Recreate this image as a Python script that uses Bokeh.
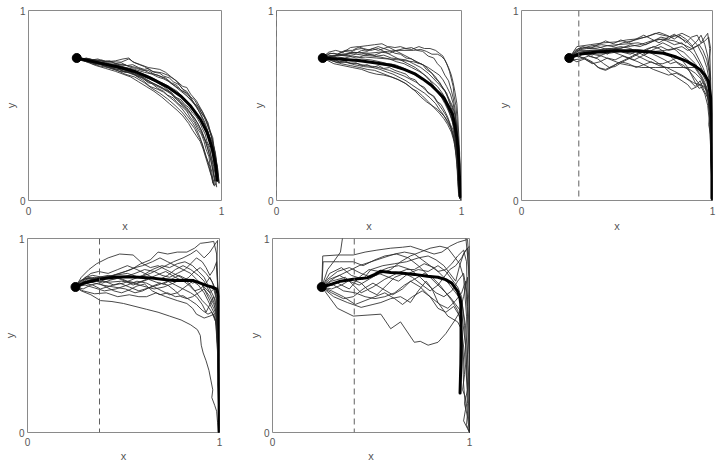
from bokeh.plotting import figure
from bokeh.layouts import column, row
from bokeh.models import Range1d, FixedTicker, Span
from bokeh.embed import file_html
from bokeh.resources import INLINE

# ---------------- data ----------------
START = (0.25, 0.75)
TICKS = [0, 1]
TICK_LABELS = {0: "0", 1: "1"}

# thresholds (dashed vertical lines); None = no line
THRESHOLDS = [None, 0.0, 0.30, 0.375, 0.415]

P1_MEAN = [(0.25,0.75),(0.37,0.723),(0.46,0.704),(0.55,0.679),(0.63,0.645),(0.72,0.598),(0.79,0.549),(0.84,0.497),(0.89,0.428),(0.925,0.359),(0.952,0.272),(0.97,0.185),(0.978,0.107)]
P1_PATHS = [
 [(0.25,0.75),(0.30,0.745),(0.35,0.74),(0.40,0.735),(0.44,0.73),(0.48,0.728),(0.52,0.745),(0.55,0.725),(0.60,0.705),(0.64,0.68),(0.69,0.672),(0.72,0.66),(0.76,0.635),(0.80,0.60),(0.82,0.595),(0.84,0.56),(0.87,0.525),(0.90,0.47),(0.92,0.43),(0.94,0.37),(0.955,0.31),(0.97,0.23),(0.98,0.16),(0.985,0.12)],
 [(0.25,0.75),(0.31,0.735),(0.36,0.71),(0.41,0.70),(0.46,0.685),(0.50,0.665),(0.55,0.65),(0.60,0.62),(0.64,0.59),(0.68,0.565),(0.72,0.535),(0.76,0.50),(0.80,0.46),(0.83,0.42),(0.86,0.38),(0.88,0.34),(0.90,0.30),(0.915,0.25),(0.93,0.20),(0.945,0.14),(0.96,0.10),(0.965,0.075)],
 [(0.25,0.75),(0.32,0.735),(0.38,0.725),(0.43,0.715),(0.47,0.71),(0.52,0.695),(0.57,0.675),(0.61,0.66),(0.66,0.635),(0.70,0.61),(0.74,0.585),(0.78,0.56),(0.81,0.53),(0.84,0.50),(0.87,0.46),(0.89,0.43),(0.91,0.39),(0.93,0.34),(0.945,0.29),(0.955,0.23),(0.965,0.17),(0.975,0.11)],
 [(0.25,0.75),(0.30,0.73),(0.36,0.72),(0.42,0.70),(0.48,0.685),(0.53,0.67),(0.58,0.65),(0.62,0.625),(0.66,0.605),(0.70,0.585),(0.74,0.56),(0.77,0.53),(0.80,0.505),(0.83,0.47),(0.86,0.435),(0.88,0.40),(0.90,0.36),(0.915,0.32),(0.93,0.27),(0.945,0.21),(0.955,0.16),(0.965,0.10)],
 [(0.25,0.75),(0.33,0.74),(0.40,0.73),(0.45,0.735),(0.49,0.745),(0.52,0.75),(0.54,0.73),(0.58,0.715),(0.62,0.70),(0.65,0.695),(0.68,0.69),(0.71,0.675),(0.74,0.65),(0.77,0.625),(0.80,0.585),(0.83,0.555),(0.86,0.51),(0.88,0.485),(0.91,0.44),(0.93,0.39),(0.95,0.33),(0.96,0.27),(0.975,0.20),(0.98,0.14),(0.985,0.09)],
 [(0.25,0.75),(0.31,0.73),(0.37,0.715),(0.43,0.695),(0.47,0.68),(0.51,0.675),(0.55,0.66),(0.59,0.635),(0.63,0.60),(0.67,0.585),(0.70,0.57),(0.73,0.545),(0.76,0.52),(0.79,0.49),(0.82,0.45),(0.85,0.41),(0.87,0.375),(0.89,0.33),(0.905,0.28),(0.92,0.23),(0.94,0.18),(0.95,0.12),(0.955,0.09)],
 [(0.25,0.75),(0.29,0.74),(0.34,0.735),(0.39,0.725),(0.44,0.71),(0.50,0.70),(0.55,0.69),(0.60,0.675),(0.64,0.665),(0.67,0.65),(0.70,0.64),(0.73,0.625),(0.76,0.60),(0.79,0.575),(0.82,0.55),(0.85,0.52),(0.87,0.49),(0.89,0.46),(0.91,0.42),(0.925,0.38),(0.94,0.33),(0.955,0.28),(0.965,0.22),(0.975,0.16),(0.98,0.10)],
 [(0.25,0.75),(0.32,0.74),(0.38,0.72),(0.42,0.705),(0.46,0.70),(0.50,0.69),(0.54,0.675),(0.57,0.66),(0.60,0.645),(0.64,0.62),(0.68,0.60),(0.72,0.58),(0.75,0.55),(0.78,0.52),(0.81,0.485),(0.84,0.455),(0.86,0.42),(0.88,0.385),(0.90,0.35),(0.92,0.30),(0.935,0.25),(0.95,0.19),(0.96,0.13),(0.97,0.08)],
 [(0.25,0.75),(0.30,0.74),(0.35,0.725),(0.40,0.72),(0.45,0.70),(0.50,0.685),(0.55,0.67),(0.60,0.65),(0.65,0.63),(0.69,0.62),(0.73,0.60),(0.77,0.575),(0.80,0.545),(0.83,0.515),(0.855,0.48),(0.88,0.44),(0.90,0.41),(0.92,0.37),(0.94,0.32),(0.955,0.26),(0.965,0.20),(0.97,0.15),(0.975,0.10)],
 [(0.25,0.75),(0.31,0.745),(0.37,0.73),(0.42,0.72),(0.46,0.715),(0.51,0.71),(0.56,0.70),(0.60,0.685),(0.63,0.67),(0.67,0.66),(0.71,0.64),(0.74,0.615),(0.78,0.59),(0.81,0.565),(0.84,0.53),(0.87,0.495),(0.89,0.455),(0.91,0.41),(0.93,0.36),(0.95,0.31),(0.96,0.25),(0.97,0.19),(0.975,0.13)],
 [(0.25,0.75),(0.30,0.73),(0.35,0.71),(0.40,0.695),(0.45,0.68),(0.49,0.665),(0.53,0.65),(0.57,0.625),(0.61,0.60),(0.65,0.575),(0.69,0.545),(0.73,0.51),(0.77,0.475),(0.80,0.445),(0.83,0.405),(0.85,0.37),(0.87,0.34),(0.89,0.31),(0.905,0.27),(0.92,0.22),(0.935,0.17),(0.95,0.12),(0.96,0.08)],
 [(0.25,0.75),(0.33,0.735),(0.39,0.72),(0.44,0.71),(0.49,0.695),(0.53,0.685),(0.58,0.665),(0.62,0.645),(0.66,0.625),(0.70,0.60),(0.73,0.575),(0.76,0.545),(0.79,0.52),(0.82,0.49),(0.85,0.445),(0.875,0.41),(0.895,0.37),(0.91,0.33),(0.93,0.29),(0.945,0.24),(0.96,0.18),(0.97,0.12),(0.975,0.07)],
 [(0.25,0.75),(0.28,0.745),(0.30,0.75),(0.33,0.74),(0.36,0.745),(0.39,0.73),(0.42,0.735),(0.45,0.72),(0.48,0.725),(0.51,0.71),(0.54,0.715),(0.57,0.70),(0.60,0.69),(0.62,0.695),(0.65,0.675),(0.68,0.67),(0.70,0.655),(0.73,0.645),(0.75,0.625),(0.78,0.61),(0.80,0.585),(0.82,0.575),(0.84,0.545),(0.86,0.53),(0.88,0.495),(0.90,0.47),(0.915,0.435),(0.93,0.41),(0.94,0.37),(0.955,0.33),(0.96,0.29),(0.97,0.24),(0.975,0.19),(0.98,0.14),(0.985,0.10)],
 [(0.25,0.75),(0.27,0.74),(0.30,0.735),(0.32,0.725),(0.35,0.73),(0.38,0.715),(0.41,0.71),(0.44,0.695),(0.47,0.69),(0.50,0.675),(0.53,0.675),(0.56,0.655),(0.59,0.645),(0.62,0.62),(0.64,0.615),(0.67,0.59),(0.70,0.575),(0.72,0.555),(0.75,0.54),(0.77,0.515),(0.80,0.49),(0.82,0.47),(0.84,0.435),(0.86,0.41),(0.88,0.37),(0.895,0.35),(0.91,0.31),(0.92,0.27),(0.935,0.23),(0.94,0.19),(0.95,0.15),(0.955,0.11),(0.96,0.08)],
 [(0.25,0.75),(0.29,0.745),(0.32,0.745),(0.35,0.735),(0.38,0.74),(0.41,0.725),(0.44,0.725),(0.47,0.715),(0.50,0.715),(0.53,0.70),(0.56,0.695),(0.59,0.685),(0.62,0.685),(0.65,0.665),(0.68,0.655),(0.71,0.645),(0.74,0.62),(0.77,0.605),(0.79,0.58),(0.82,0.565),(0.84,0.54),(0.86,0.51),(0.88,0.495),(0.90,0.455),(0.92,0.425),(0.93,0.39),(0.945,0.35),(0.955,0.30),(0.965,0.26),(0.97,0.21),(0.98,0.17),(0.985,0.12),(0.99,0.09)],
 [(0.25,0.75),(0.28,0.735),(0.31,0.73),(0.34,0.715),(0.37,0.72),(0.40,0.705),(0.43,0.70),(0.46,0.70),(0.49,0.68),(0.52,0.68),(0.55,0.665),(0.58,0.655),(0.61,0.635),(0.63,0.625),(0.66,0.61),(0.69,0.595),(0.71,0.58),(0.74,0.57),(0.76,0.545),(0.79,0.53),(0.81,0.505),(0.83,0.49),(0.85,0.46),(0.87,0.44),(0.89,0.405),(0.90,0.38),(0.915,0.35),(0.925,0.31),(0.94,0.28),(0.945,0.23),(0.955,0.19),(0.96,0.14),(0.97,0.10)],
]

P2_MEAN = [(0.25,0.75),(0.33,0.745),(0.44,0.737),(0.53,0.725),(0.62,0.712),(0.69,0.69),(0.745,0.668),(0.79,0.64),(0.835,0.608),(0.875,0.57),(0.906,0.539),(0.93,0.495),(0.951,0.453),(0.965,0.39),(0.975,0.332),(0.982,0.26),(0.987,0.193),(0.99,0.10),(0.993,0.02)]
P2_PATHS = [
 [(0.25,0.75),(0.28,0.78),(0.32,0.79),(0.36,0.78),(0.40,0.805),(0.44,0.81),(0.47,0.80),(0.51,0.79),(0.55,0.80),(0.59,0.78),(0.63,0.76),(0.67,0.74),(0.71,0.72),(0.75,0.70),(0.79,0.67),(0.83,0.63),(0.86,0.59),(0.89,0.55),(0.92,0.50),(0.94,0.45),(0.96,0.38),(0.97,0.30),(0.98,0.20),(0.985,0.10),(0.99,0.03)],
 [(0.25,0.75),(0.30,0.76),(0.35,0.77),(0.40,0.775),(0.45,0.78),(0.50,0.775),(0.55,0.78),(0.60,0.785),(0.65,0.79),(0.70,0.79),(0.74,0.79),(0.78,0.795),(0.81,0.785),(0.84,0.77),(0.87,0.77),(0.89,0.76),(0.91,0.74),(0.93,0.70),(0.945,0.66),(0.955,0.62),(0.965,0.57),(0.975,0.51),(0.98,0.44),(0.985,0.35),(0.99,0.25),(0.99,0.12),(0.995,0.02)],
 [(0.25,0.75),(0.29,0.775),(0.33,0.77),(0.37,0.79),(0.41,0.79),(0.45,0.81),(0.49,0.815),(0.53,0.82),(0.57,0.825),(0.60,0.81),(0.63,0.795),(0.66,0.78),(0.69,0.765),(0.72,0.75),(0.76,0.73),(0.80,0.71),(0.83,0.68),(0.86,0.65),(0.88,0.62),(0.91,0.58),(0.93,0.53),(0.95,0.47),(0.965,0.40),(0.975,0.31),(0.98,0.21),(0.985,0.10),(0.99,0.01)],
 [(0.25,0.75),(0.30,0.735),(0.35,0.72),(0.40,0.71),(0.45,0.70),(0.49,0.69),(0.53,0.685),(0.57,0.67),(0.61,0.655),(0.65,0.64),(0.69,0.62),(0.72,0.60),(0.75,0.575),(0.78,0.545),(0.81,0.52),(0.84,0.50),(0.87,0.48),(0.89,0.46),(0.91,0.44),(0.93,0.41),(0.945,0.38),(0.955,0.35),(0.965,0.30),(0.975,0.22),(0.98,0.12),(0.985,0.04)],
 [(0.25,0.75),(0.31,0.72),(0.36,0.71),(0.41,0.70),(0.46,0.69),(0.50,0.675),(0.54,0.665),(0.58,0.66),(0.62,0.65),(0.66,0.635),(0.70,0.615),(0.73,0.59),(0.76,0.575),(0.79,0.55),(0.82,0.52),(0.85,0.49),(0.88,0.46),(0.905,0.43),(0.925,0.40),(0.945,0.36),(0.96,0.31),(0.97,0.25),(0.978,0.17),(0.985,0.08),(0.99,0.02)],
 [(0.25,0.75),(0.30,0.745),(0.35,0.75),(0.40,0.74),(0.45,0.735),(0.50,0.73),(0.55,0.72),(0.60,0.71),(0.65,0.70),(0.70,0.685),(0.74,0.665),(0.78,0.645),(0.82,0.62),(0.85,0.59),(0.88,0.56),(0.905,0.53),(0.925,0.49),(0.945,0.44),(0.96,0.39),(0.97,0.33),(0.98,0.25),(0.985,0.15),(0.99,0.05)],
 [(0.25,0.75),(0.29,0.76),(0.34,0.765),(0.38,0.76),(0.43,0.77),(0.47,0.765),(0.52,0.76),(0.56,0.755),(0.61,0.745),(0.65,0.73),(0.69,0.72),(0.73,0.70),(0.77,0.68),(0.81,0.655),(0.84,0.625),(0.87,0.60),(0.90,0.56),(0.92,0.52),(0.94,0.48),(0.955,0.43),(0.965,0.37),(0.975,0.29),(0.98,0.19),(0.985,0.09),(0.99,0.03)],
 [(0.25,0.75),(0.30,0.74),(0.34,0.73),(0.39,0.725),(0.44,0.72),(0.48,0.71),(0.53,0.705),(0.57,0.695),(0.61,0.685),(0.65,0.67),(0.69,0.655),(0.72,0.64),(0.76,0.62),(0.79,0.595),(0.82,0.57),(0.85,0.545),(0.87,0.515),(0.895,0.48),(0.915,0.45),(0.935,0.41),(0.95,0.36),(0.965,0.30),(0.975,0.22),(0.98,0.13),(0.985,0.05)],
 [(0.25,0.75),(0.27,0.77),(0.31,0.775),(0.35,0.765),(0.39,0.77),(0.42,0.78),(0.46,0.775),(0.50,0.77),(0.54,0.76),(0.58,0.765),(0.62,0.75),(0.66,0.745),(0.70,0.74),(0.74,0.72),(0.78,0.70),(0.82,0.67),(0.85,0.64),(0.88,0.61),(0.91,0.575),(0.93,0.54),(0.95,0.50),(0.965,0.45),(0.975,0.38),(0.98,0.30),(0.985,0.20),(0.99,0.10),(0.99,0.03)],
 [(0.25,0.75),(0.30,0.75),(0.36,0.74),(0.41,0.735),(0.46,0.745),(0.51,0.74),(0.56,0.73),(0.60,0.72),(0.64,0.715),(0.68,0.70),(0.72,0.68),(0.76,0.665),(0.79,0.64),(0.83,0.61),(0.86,0.58),(0.89,0.545),(0.91,0.51),(0.93,0.47),(0.95,0.42),(0.96,0.36),(0.97,0.29),(0.98,0.21),(0.985,0.12),(0.99,0.04)],
 [(0.25,0.75),(0.31,0.76),(0.37,0.765),(0.43,0.75),(0.48,0.755),(0.54,0.75),(0.60,0.745),(0.66,0.74),(0.70,0.735),(0.74,0.73),(0.78,0.72),(0.82,0.70),(0.85,0.68),(0.88,0.66),(0.90,0.635),(0.92,0.60),(0.94,0.56),(0.955,0.51),(0.965,0.45),(0.975,0.38),(0.98,0.30),(0.985,0.20),(0.99,0.10),(0.99,0.01)],
 [(0.25,0.75),(0.29,0.74),(0.33,0.725),(0.37,0.73),(0.42,0.715),(0.47,0.705),(0.52,0.70),(0.56,0.69),(0.60,0.675),(0.63,0.665),(0.67,0.645),(0.70,0.63),(0.73,0.61),(0.76,0.59),(0.80,0.565),(0.83,0.54),(0.86,0.51),(0.88,0.48),(0.90,0.455),(0.92,0.42),(0.94,0.385),(0.955,0.34),(0.965,0.28),(0.975,0.19),(0.98,0.10),(0.985,0.02)],
 [(0.25,0.75),(0.28,0.76),(0.31,0.755),(0.34,0.77),(0.37,0.765),(0.40,0.78),(0.43,0.775),(0.46,0.79),(0.49,0.785),(0.52,0.80),(0.55,0.79),(0.58,0.80),(0.61,0.79),(0.64,0.775),(0.67,0.77),(0.70,0.75),(0.73,0.745),(0.76,0.725),(0.79,0.715),(0.81,0.69),(0.84,0.67),(0.86,0.64),(0.88,0.625),(0.90,0.59),(0.92,0.565),(0.935,0.52),(0.95,0.49),(0.96,0.44),(0.97,0.40),(0.975,0.34),(0.98,0.28),(0.985,0.21),(0.985,0.14),(0.99,0.07),(0.99,0.01)],
 [(0.25,0.75),(0.28,0.74),(0.31,0.745),(0.34,0.73),(0.37,0.735),(0.40,0.72),(0.43,0.725),(0.46,0.71),(0.49,0.715),(0.52,0.70),(0.55,0.71),(0.58,0.695),(0.61,0.70),(0.64,0.685),(0.67,0.675),(0.70,0.665),(0.72,0.645),(0.75,0.635),(0.77,0.61),(0.80,0.595),(0.82,0.565),(0.85,0.55),(0.87,0.52),(0.89,0.505),(0.91,0.47),(0.925,0.44),(0.94,0.40),(0.955,0.37),(0.965,0.32),(0.97,0.27),(0.98,0.21),(0.98,0.15),(0.985,0.08),(0.99,0.02)],
 [(0.25,0.75),(0.28,0.765),(0.31,0.76),(0.34,0.775),(0.37,0.785),(0.40,0.78),(0.43,0.795),(0.46,0.80),(0.49,0.79),(0.52,0.80),(0.55,0.81),(0.58,0.80),(0.61,0.81),(0.64,0.805),(0.67,0.81),(0.70,0.80),(0.73,0.805),(0.76,0.79),(0.79,0.785),(0.82,0.76),(0.85,0.75),(0.87,0.72),(0.89,0.70),(0.91,0.66),(0.93,0.63),(0.945,0.58),(0.955,0.54),(0.965,0.48),(0.97,0.43),(0.975,0.36),(0.98,0.29),(0.985,0.21),(0.99,0.13),(0.99,0.05)],
 [(0.25,0.75),(0.29,0.745),(0.33,0.755),(0.37,0.75),(0.41,0.76),(0.45,0.755),(0.49,0.77),(0.53,0.765),(0.57,0.78),(0.61,0.775),(0.65,0.79),(0.69,0.80),(0.73,0.795),(0.77,0.81),(0.80,0.80),(0.83,0.80),(0.86,0.79),(0.88,0.775),(0.90,0.76),(0.92,0.72),(0.935,0.68),(0.945,0.64),(0.955,0.60),(0.96,0.55),(0.97,0.50),(0.975,0.44),(0.98,0.37),(0.985,0.28),(0.99,0.18),(0.99,0.08),(0.995,0.0)],
]

P3_MEAN = [(0.25,0.75),(0.30,0.77),(0.394,0.781),(0.48,0.787),(0.569,0.788),(0.66,0.783),(0.743,0.775),(0.81,0.755),(0.866,0.732),(0.905,0.71),(0.935,0.688),(0.96,0.66),(0.979,0.626),(0.991,0.539),(0.995,0.45),(0.997,0.363),(0.997,0.2),(0.997,0.012)]
P3_PATHS = [
 [(0.25,0.75),(0.29,0.81),(0.36,0.82),(0.43,0.83),(0.50,0.835),(0.55,0.845),(0.60,0.85),(0.65,0.86),(0.70,0.88),(0.74,0.87),(0.79,0.86),(0.84,0.88),(0.88,0.86),(0.92,0.82),(0.95,0.76),(0.97,0.70),(0.985,0.62),(0.99,0.50),(0.995,0.35),(0.997,0.18),(0.998,0.01)],
 [(0.25,0.75),(0.30,0.80),(0.35,0.805),(0.40,0.81),(0.46,0.79),(0.52,0.80),(0.57,0.82),(0.62,0.81),(0.67,0.83),(0.72,0.85),(0.76,0.84),(0.80,0.82),(0.84,0.83),(0.87,0.80),(0.90,0.77),(0.93,0.72),(0.95,0.68),(0.97,0.64),(0.985,0.58),(0.99,0.45),(0.995,0.30),(0.997,0.12),(0.998,0.0)],
 [(0.25,0.75),(0.28,0.76),(0.33,0.75),(0.37,0.73),(0.40,0.70),(0.44,0.69),(0.48,0.71),(0.52,0.73),(0.56,0.72),(0.60,0.70),(0.64,0.715),(0.68,0.73),(0.72,0.71),(0.76,0.70),(0.80,0.68),(0.84,0.66),(0.87,0.64),(0.90,0.62),(0.93,0.61),(0.96,0.60),(0.98,0.55),(0.99,0.42),(0.995,0.25),(0.997,0.05)],
 [(0.25,0.75),(0.31,0.77),(0.37,0.77),(0.42,0.76),(0.47,0.74),(0.52,0.72),(0.57,0.71),(0.63,0.70),(0.70,0.70),(0.78,0.70),(0.85,0.70),(0.91,0.70),(0.94,0.66),(0.96,0.62),(0.975,0.57),(0.985,0.48),(0.99,0.35),(0.995,0.20),(0.997,0.02)],
 [(0.25,0.75),(0.30,0.78),(0.36,0.79),(0.42,0.795),(0.47,0.80),(0.52,0.81),(0.57,0.80),(0.61,0.78),(0.65,0.76),(0.69,0.74),(0.72,0.72),(0.75,0.70),(0.78,0.67),(0.81,0.65),(0.84,0.63),(0.87,0.61),(0.89,0.585),(0.92,0.60),(0.95,0.62),(0.97,0.60),(0.985,0.52),(0.99,0.38),(0.995,0.22),(0.998,0.03)],
 [(0.25,0.75),(0.29,0.79),(0.34,0.80),(0.39,0.80),(0.45,0.815),(0.50,0.82),(0.56,0.825),(0.61,0.83),(0.65,0.82),(0.69,0.84),(0.73,0.86),(0.77,0.85),(0.80,0.87),(0.83,0.86),(0.86,0.83),(0.89,0.86),(0.92,0.87),(0.94,0.83),(0.96,0.86),(0.975,0.88),(0.985,0.80),(0.99,0.65),(0.995,0.45),(0.997,0.25),(0.998,0.02)],
 [(0.25,0.75),(0.27,0.74),(0.31,0.745),(0.35,0.76),(0.39,0.75),(0.43,0.77),(0.47,0.785),(0.51,0.77),(0.55,0.755),(0.59,0.74),(0.63,0.76),(0.67,0.78),(0.71,0.76),(0.75,0.74),(0.78,0.72),(0.81,0.73),(0.85,0.71),(0.88,0.68),(0.91,0.64),(0.94,0.60),(0.96,0.56),(0.975,0.50),(0.985,0.40),(0.99,0.28),(0.995,0.12),(0.997,0.0)],
 [(0.25,0.75),(0.28,0.77),(0.32,0.775),(0.36,0.76),(0.40,0.745),(0.43,0.72),(0.46,0.70),(0.49,0.705),(0.53,0.73),(0.57,0.75),(0.61,0.77),(0.65,0.79),(0.69,0.81),(0.72,0.80),(0.75,0.78),(0.79,0.75),(0.82,0.72),(0.85,0.70),(0.88,0.69),(0.91,0.67),(0.94,0.64),(0.96,0.60),(0.98,0.52),(0.99,0.40),(0.995,0.25),(0.998,0.05)],
 [(0.25,0.75),(0.30,0.76),(0.34,0.74),(0.38,0.72),(0.41,0.695),(0.44,0.685),(0.47,0.70),(0.50,0.72),(0.54,0.74),(0.58,0.76),(0.62,0.78),(0.66,0.80),(0.70,0.81),(0.74,0.83),(0.78,0.81),(0.81,0.79),(0.84,0.76),(0.87,0.74),(0.90,0.71),(0.92,0.68),(0.94,0.65),(0.96,0.61),(0.975,0.56),(0.985,0.46),(0.99,0.34),(0.995,0.18),(0.998,0.02)],
 [(0.25,0.75),(0.30,0.79),(0.35,0.79),(0.40,0.79),(0.45,0.80),(0.50,0.795),(0.55,0.79),(0.60,0.795),(0.65,0.79),(0.70,0.785),(0.75,0.79),(0.80,0.80),(0.84,0.81),(0.87,0.79),(0.90,0.80),(0.93,0.82),(0.95,0.79),(0.97,0.74),(0.985,0.66),(0.99,0.52),(0.995,0.35),(0.997,0.15),(0.998,0.0)],
 [(0.25,0.75),(0.29,0.765),(0.34,0.78),(0.40,0.77),(0.46,0.775),(0.52,0.785),(0.58,0.775),(0.62,0.755),(0.66,0.735),(0.70,0.72),(0.74,0.72),(0.78,0.735),(0.81,0.75),(0.84,0.74),(0.87,0.70),(0.89,0.66),(0.91,0.62),(0.93,0.59),(0.95,0.60),(0.97,0.58),(0.985,0.50),(0.99,0.36),(0.995,0.20),(0.997,0.05)],
 [(0.25,0.75),(0.31,0.80),(0.37,0.815),(0.42,0.82),(0.48,0.81),(0.53,0.83),(0.58,0.84),(0.63,0.855),(0.68,0.87),(0.72,0.885),(0.76,0.87),(0.80,0.85),(0.83,0.87),(0.86,0.85),(0.89,0.82),(0.91,0.78),(0.93,0.74),(0.95,0.70),(0.965,0.66),(0.975,0.62),(0.985,0.56),(0.99,0.44),(0.995,0.28),(0.997,0.10),(0.998,0.0)],
 [(0.25,0.75),(0.30,0.78),(0.36,0.785),(0.43,0.79),(0.50,0.80),(0.56,0.81),(0.62,0.82),(0.68,0.84),(0.74,0.85),(0.80,0.84),(0.85,0.82),(0.89,0.80),(0.93,0.82),(0.96,0.84),(0.98,0.86),(0.99,0.80),(0.98,0.72),(0.99,0.64),(0.975,0.56),(0.99,0.48),(0.98,0.40),(0.995,0.32),(0.99,0.22),(0.997,0.10),(0.998,0.0)],
 [(0.25,0.75),(0.27,0.77),(0.30,0.755),(0.33,0.78),(0.37,0.765),(0.41,0.79),(0.45,0.77),(0.49,0.80),(0.53,0.78),(0.57,0.77),(0.61,0.79),(0.65,0.77),(0.69,0.795),(0.73,0.81),(0.77,0.79),(0.81,0.80),(0.85,0.78),(0.88,0.75),(0.91,0.72),(0.93,0.69),(0.95,0.66),(0.97,0.62),(0.985,0.57),(0.99,0.46),(0.995,0.30),(0.998,0.10),(0.998,0.0)],
 [(0.25,0.75),(0.29,0.73),(0.33,0.745),(0.37,0.72),(0.41,0.73),(0.45,0.75),(0.49,0.74),(0.53,0.76),(0.57,0.745),(0.61,0.73),(0.65,0.71),(0.69,0.69),(0.73,0.675),(0.77,0.66),(0.81,0.67),(0.85,0.65),(0.88,0.63),(0.91,0.60),(0.935,0.63),(0.955,0.58),(0.975,0.54),(0.985,0.44),(0.99,0.30),(0.995,0.15),(0.998,0.0)],
 [(0.25,0.75),(0.28,0.79),(0.32,0.81),(0.36,0.80),(0.40,0.82),(0.44,0.84),(0.48,0.825),(0.52,0.845),(0.56,0.83),(0.60,0.85),(0.64,0.87),(0.68,0.85),(0.72,0.83),(0.76,0.855),(0.80,0.875),(0.83,0.855),(0.86,0.84),(0.89,0.81),(0.92,0.84),(0.94,0.87),(0.96,0.82),(0.975,0.76),(0.985,0.68),(0.99,0.55),(0.995,0.38),(0.997,0.20),(0.998,0.0)],
]

P4_MEAN = [(0.25,0.75),(0.30,0.772),(0.381,0.791),(0.45,0.80),(0.519,0.803),(0.58,0.80),(0.64,0.797),(0.70,0.79),(0.761,0.783),(0.82,0.785),(0.865,0.783),(0.90,0.77),(0.934,0.757),(0.96,0.75),(0.986,0.739),(0.995,0.70),(0.998,0.5),(0.998,0.2),(0.998,0.0)]
P4_PATHS = [
 [(0.25,0.75),(0.28,0.73),(0.33,0.71),(0.38,0.68),(0.44,0.675),(0.50,0.665),(0.56,0.65),(0.62,0.635),(0.68,0.62),(0.74,0.60),(0.80,0.58),(0.85,0.555),(0.885,0.53),(0.90,0.50),(0.905,0.45),(0.915,0.41),(0.93,0.37),(0.945,0.32),(0.955,0.27),(0.965,0.22),(0.96,0.18),(0.975,0.14),(0.985,0.11),(0.99,0.05),(0.995,0.0)],
 [(0.25,0.75),(0.28,0.80),(0.32,0.84),(0.36,0.87),(0.42,0.90),(0.48,0.92),(0.55,0.915),(0.60,0.87),(0.64,0.85),(0.68,0.86),(0.72,0.84),(0.76,0.82),(0.80,0.80),(0.84,0.77),(0.88,0.72),(0.91,0.68),(0.94,0.65),(0.96,0.62),(0.98,0.58),(0.99,0.45),(0.995,0.30),(0.998,0.10),(0.998,0.0)],
 [(0.25,0.75),(0.30,0.78),(0.36,0.79),(0.42,0.80),(0.48,0.82),(0.54,0.84),(0.59,0.87),(0.64,0.89),(0.68,0.93),(0.73,0.92),(0.78,0.93),(0.83,0.93),(0.87,0.95),(0.90,0.975),(0.94,0.98),(0.97,0.985),(0.985,0.92),(0.99,0.80),(0.995,0.60),(0.997,0.40),(0.998,0.20),(0.998,0.0)],
 [(0.25,0.75),(0.29,0.73),(0.35,0.715),(0.41,0.72),(0.47,0.70),(0.53,0.71),(0.58,0.70),(0.62,0.70),(0.67,0.72),(0.72,0.70),(0.78,0.68),(0.83,0.665),(0.86,0.64),(0.88,0.61),(0.92,0.59),(0.95,0.60),(0.97,0.61),(0.985,0.55),(0.99,0.40),(0.995,0.25),(0.998,0.05)],
 [(0.25,0.75),(0.30,0.79),(0.35,0.80),(0.40,0.78),(0.45,0.76),(0.50,0.77),(0.55,0.79),(0.60,0.81),(0.65,0.84),(0.70,0.86),(0.74,0.85),(0.78,0.87),(0.82,0.88),(0.86,0.86),(0.89,0.83),(0.92,0.80),(0.94,0.76),(0.96,0.72),(0.98,0.68),(0.99,0.55),(0.995,0.35),(0.998,0.15),(0.998,0.0)],
 [(0.25,0.75),(0.29,0.77),(0.34,0.76),(0.38,0.74),(0.43,0.755),(0.48,0.77),(0.53,0.75),(0.58,0.73),(0.63,0.745),(0.68,0.76),(0.73,0.78),(0.77,0.76),(0.81,0.74),(0.85,0.72),(0.88,0.70),(0.91,0.66),(0.93,0.62),(0.95,0.66),(0.97,0.70),(0.985,0.64),(0.99,0.50),(0.995,0.30),(0.998,0.08)],
 [(0.25,0.75),(0.30,0.80),(0.34,0.81),(0.39,0.80),(0.44,0.79),(0.50,0.80),(0.56,0.82),(0.61,0.84),(0.66,0.83),(0.70,0.81),(0.74,0.80),(0.78,0.82),(0.82,0.84),(0.85,0.87),(0.88,0.90),(0.91,0.88),(0.93,0.85),(0.95,0.81),(0.97,0.84),(0.985,0.88),(0.99,0.75),(0.995,0.55),(0.997,0.30),(0.998,0.0)],
 [(0.25,0.75),(0.28,0.76),(0.33,0.775),(0.39,0.76),(0.45,0.75),(0.51,0.74),(0.56,0.72),(0.60,0.73),(0.64,0.75),(0.69,0.77),(0.73,0.76),(0.77,0.73),(0.80,0.70),(0.83,0.69),(0.86,0.70),(0.89,0.72),(0.92,0.74),(0.95,0.70),(0.97,0.66),(0.985,0.62),(0.99,0.48),(0.995,0.28),(0.998,0.05)],
 [(0.25,0.75),(0.31,0.78),(0.37,0.80),(0.42,0.81),(0.47,0.80),(0.52,0.78),(0.57,0.77),(0.62,0.79),(0.67,0.81),(0.72,0.83),(0.77,0.80),(0.81,0.78),(0.84,0.80),(0.87,0.83),(0.90,0.85),(0.93,0.82),(0.96,0.78),(0.975,0.74),(0.99,0.66),(0.995,0.45),(0.998,0.20),(0.998,0.0)],
 [(0.25,0.75),(0.30,0.77),(0.36,0.78),(0.43,0.775),(0.49,0.78),(0.55,0.77),(0.60,0.755),(0.66,0.74),(0.71,0.75),(0.76,0.77),(0.80,0.79),(0.84,0.76),(0.87,0.73),(0.90,0.74),(0.93,0.77),(0.95,0.80),(0.97,0.76),(0.985,0.70),(0.99,0.55),(0.995,0.35),(0.998,0.12),(0.998,0.0)],
 [(0.25,0.75),(0.28,0.785),(0.32,0.80),(0.36,0.79),(0.41,0.80),(0.46,0.815),(0.51,0.83),(0.56,0.85),(0.60,0.86),(0.65,0.88),(0.69,0.90),(0.73,0.88),(0.77,0.86),(0.81,0.84),(0.85,0.82),(0.88,0.79),(0.91,0.76),(0.93,0.72),(0.95,0.68),(0.97,0.64),(0.985,0.60),(0.99,0.45),(0.995,0.25),(0.998,0.02)],
 [(0.25,0.75),(0.30,0.76),(0.35,0.745),(0.40,0.73),(0.46,0.74),(0.52,0.76),(0.57,0.78),(0.62,0.77),(0.66,0.75),(0.70,0.73),(0.74,0.71),(0.78,0.72),(0.82,0.75),(0.86,0.78),(0.89,0.76),(0.92,0.72),(0.94,0.68),(0.96,0.64),(0.98,0.60),(0.99,0.48),(0.995,0.30),(0.998,0.10),(0.998,0.0)],
 [(0.25,0.75),(0.31,0.79),(0.38,0.80),(0.45,0.81),(0.52,0.82),(0.58,0.80),(0.64,0.82),(0.70,0.85),(0.76,0.88),(0.81,0.90),(0.85,0.92),(0.88,0.94),(0.92,0.90),(0.95,0.93),(0.97,0.96),(0.99,0.99),(0.985,0.85),(0.995,0.70),(0.985,0.55),(0.995,0.40),(0.99,0.25),(0.997,0.10),(0.998,0.0)],
 [(0.25,0.75),(0.27,0.78),(0.31,0.795),(0.35,0.785),(0.39,0.77),(0.43,0.785),(0.47,0.795),(0.51,0.78),(0.55,0.76),(0.59,0.775),(0.63,0.79),(0.67,0.775),(0.71,0.765),(0.75,0.79),(0.79,0.81),(0.83,0.79),(0.86,0.77),(0.89,0.78),(0.92,0.75),(0.95,0.72),(0.97,0.74),(0.985,0.68),(0.99,0.52),(0.995,0.32),(0.998,0.10),(0.998,0.0)],
 [(0.25,0.75),(0.29,0.74),(0.33,0.76),(0.37,0.77),(0.41,0.75),(0.45,0.73),(0.49,0.72),(0.53,0.735),(0.57,0.755),(0.61,0.765),(0.65,0.73),(0.69,0.71),(0.73,0.72),(0.77,0.70),(0.81,0.705),(0.85,0.68),(0.88,0.66),(0.91,0.63),(0.94,0.61),(0.96,0.62),(0.98,0.57),(0.99,0.42),(0.995,0.22),(0.998,0.0)],
 [(0.25,0.75),(0.29,0.79),(0.33,0.82),(0.37,0.83),(0.42,0.82),(0.47,0.84),(0.52,0.86),(0.57,0.84),(0.61,0.82),(0.65,0.80),(0.69,0.79),(0.73,0.81),(0.77,0.84),(0.81,0.86),(0.85,0.84),(0.89,0.81),(0.92,0.78),(0.94,0.74),(0.96,0.70),(0.975,0.66),(0.985,0.58),(0.99,0.45),(0.995,0.25),(0.998,0.0)],
]

P5_MEAN = [(0.25,0.75),(0.30,0.765),(0.345,0.78),(0.41,0.79),(0.48,0.797),(0.52,0.815),(0.548,0.831),(0.60,0.825),(0.65,0.822),(0.72,0.815),(0.786,0.805),(0.84,0.80),(0.879,0.788),(0.91,0.77),(0.939,0.729),(0.952,0.69),(0.956,0.661),(0.957,0.55),(0.957,0.45),(0.956,0.356),(0.954,0.28),(0.952,0.203)]
P5_PATHS = [
 [(0.25,0.75),(0.255,0.91),(0.33,0.915),(0.41,0.915),(0.47,0.93),(0.53,0.94),(0.60,0.95),(0.66,0.955),(0.70,0.96),(0.76,0.94),(0.82,0.92),(0.86,0.93),(0.90,0.96),(0.94,0.98),(0.99,0.995),(1.0,0.85),(1.0,0.60),(1.0,0.30),(1.0,0.0)],
 [(0.25,0.75),(0.28,0.84),(0.31,0.88),(0.345,0.93),(0.355,1.0),(0.37,1.06),(0.60,1.08),(0.98,1.02),(1.0,0.80),(1.0,0.0)],
 [(0.25,0.75),(0.257,0.88),(0.34,0.88),(0.41,0.88),(0.46,0.86),(0.52,0.89),(0.57,0.91),(0.63,0.92),(0.69,0.90),(0.74,0.86),(0.78,0.82),(0.82,0.78),(0.86,0.74),(0.90,0.70),(0.93,0.66),(0.96,0.62),(0.98,0.45),(0.99,0.25),(1.0,0.05),(1.0,0.0)],
 [(0.25,0.75),(0.33,0.64),(0.41,0.60),(0.48,0.605),(0.55,0.61),(0.60,0.535),(0.65,0.57),(0.72,0.465),(0.75,0.47),(0.79,0.45),(0.84,0.465),(0.88,0.51),(0.92,0.57),(0.95,0.62),(0.97,0.70),(0.99,0.80),(1.0,0.60),(1.0,0.30),(1.0,0.0)],
 [(0.25,0.75),(0.31,0.70),(0.38,0.67),(0.45,0.645),(0.51,0.66),(0.55,0.67),(0.60,0.69),(0.65,0.70),(0.70,0.67),(0.74,0.73),(0.78,0.78),(0.81,0.74),(0.84,0.67),(0.89,0.60),(0.94,0.57),(0.96,0.53),(0.975,0.40),(0.99,0.22),(0.975,0.15),(0.99,0.08),(1.0,0.0)],
 [(0.25,0.75),(0.30,0.78),(0.37,0.80),(0.45,0.72),(0.51,0.75),(0.57,0.79),(0.63,0.82),(0.68,0.84),(0.72,0.84),(0.77,0.87),(0.82,0.85),(0.87,0.80),(0.90,0.76),(0.93,0.72),(0.96,0.68),(0.98,0.55),(0.99,0.40),(1.0,0.20),(1.0,0.0)],
 [(0.25,0.75),(0.29,0.82),(0.35,0.85),(0.40,0.81),(0.46,0.79),(0.50,0.84),(0.56,0.86),(0.62,0.87),(0.68,0.88),(0.74,0.90),(0.79,0.91),(0.83,0.89),(0.87,0.86),(0.90,0.82),(0.93,0.78),(0.95,0.86),(0.97,0.92),(0.99,0.95),(1.0,0.70),(1.0,0.40),(1.0,0.0)],
 [(0.25,0.75),(0.30,0.72),(0.36,0.69),(0.41,0.70),(0.46,0.74),(0.51,0.77),(0.56,0.74),(0.61,0.71),(0.66,0.74),(0.70,0.78),(0.75,0.75),(0.80,0.70),(0.84,0.64),(0.88,0.62),(0.92,0.65),(0.95,0.60),(0.965,0.45),(0.975,0.30),(0.965,0.22),(0.98,0.18),(0.99,0.10),(0.985,0.04),(1.0,0.0)],
 [(0.25,0.75),(0.33,0.77),(0.39,0.74),(0.44,0.80),(0.49,0.84),(0.54,0.83),(0.59,0.85),(0.64,0.86),(0.70,0.84),(0.75,0.80),(0.79,0.76),(0.83,0.72),(0.87,0.70),(0.91,0.73),(0.94,0.78),(0.97,0.82),(0.99,0.70),(1.0,0.50),(1.0,0.20),(1.0,0.0)],
 [(0.25,0.75),(0.32,0.80),(0.38,0.83),(0.44,0.86),(0.50,0.88),(0.56,0.90),(0.62,0.92),(0.67,0.93),(0.72,0.92),(0.76,0.89),(0.80,0.86),(0.84,0.83),(0.88,0.84),(0.91,0.87),(0.94,0.91),(0.97,0.94),(0.985,0.88),(0.99,0.65),(1.0,0.35),(1.0,0.0)],
 [(0.25,0.75),(0.31,0.76),(0.36,0.73),(0.42,0.72),(0.47,0.70),(0.52,0.69),(0.57,0.70),(0.62,0.72),(0.67,0.76),(0.72,0.79),(0.77,0.82),(0.81,0.80),(0.85,0.76),(0.88,0.72),(0.91,0.68),(0.94,0.63),(0.96,0.55),(0.97,0.25),(0.98,0.12),(0.97,0.06),(0.99,0.02),(1.0,0.0)],
 [(0.25,0.75),(0.28,0.79),(0.33,0.83),(0.39,0.85),(0.45,0.82),(0.50,0.80),(0.55,0.82),(0.60,0.84),(0.65,0.88),(0.70,0.91),(0.75,0.93),(0.80,0.95),(0.85,0.96),(0.89,0.95),(0.92,0.91),(0.95,0.87),(0.97,0.80),(0.985,0.60),(0.99,0.40),(1.0,0.10),(1.0,0.0)],
 [(0.25,0.75),(0.30,0.74),(0.35,0.76),(0.40,0.79),(0.45,0.77),(0.49,0.73),(0.53,0.71),(0.58,0.76),(0.62,0.80),(0.67,0.82),(0.71,0.80),(0.76,0.76),(0.80,0.73),(0.84,0.76),(0.87,0.80),(0.90,0.84),(0.93,0.86),(0.96,0.90),(0.98,0.94),(1.0,0.96),(1.0,0.60),(1.0,0.0)],
 [(0.25,0.75),(0.29,0.79),(0.34,0.81),(0.39,0.78),(0.44,0.76),(0.49,0.79),(0.54,0.82),(0.59,0.80),(0.64,0.78),(0.69,0.82),(0.74,0.84),(0.79,0.83),(0.84,0.86),(0.88,0.83),(0.91,0.79),(0.94,0.75),(0.96,0.70),(0.975,0.55),(0.985,0.35),(0.99,0.15),(1.0,0.0)],
 [(0.25,0.75),(0.30,0.73),(0.36,0.70),(0.42,0.66),(0.47,0.68),(0.52,0.70),(0.57,0.72),(0.62,0.69),(0.66,0.66),(0.71,0.70),(0.76,0.73),(0.80,0.70),(0.85,0.66),(0.89,0.64),(0.93,0.68),(0.96,0.72),(0.98,0.78),(0.99,0.60),(1.0,0.35),(1.0,0.0)],
]

PANELS = [
    (P1_PATHS, P1_MEAN),
    (P2_PATHS, P2_MEAN),
    (P3_PATHS, P3_MEAN),
    (P4_PATHS, P4_MEAN),
    (P5_PATHS, P5_MEAN),
]

# ---------------- layout (positions / sizes) ----------------
# (width, height, left, right, top, bottom, tick_standoff, label_standoff)
GEOM = [
    (248, 234, 28, 27, 10, 31, 6, 2),
    (245, 234, 28, 32, 10, 31, 6, 2),
    (224, 234, 28, 5, 10, 31, 6, 2),
    (244, 230, 27, 25, 4, 31, 5, 1),
    (229, 230, 28, 4, 4, 31, 5, 1),
]

FONT = "Liberation Sans"
FRAME_COLOR = "#8a8a8a"
TEXT_COLOR = "#555555"
THIN_COLOR = "#2a2a2a"


def make_panel(paths, mean, thr, geom):
    w, h, bl, br, bt, bb, ts, ls = geom
    p = figure(width=w, height=h, output_backend="svg", toolbar_location=None,
               x_range=Range1d(0, 1), y_range=Range1d(0, 1),
               min_border_left=bl, min_border_right=br,
               min_border_top=bt, min_border_bottom=bb,
               x_axis_label="x", y_axis_label="y")
    p.grid.visible = False
    p.outline_line_color = FRAME_COLOR
    p.outline_line_width = 1
    p.background_fill_color = "white"
    p.border_fill_color = "white"
    for ax in (p.xaxis[0], p.yaxis[0]):
        ax.ticker = FixedTicker(ticks=TICKS)
        ax.major_label_overrides = TICK_LABELS
        ax.axis_line_color = None
        ax.major_tick_line_color = None
        ax.minor_tick_line_color = None
        ax.major_tick_out = 0
        ax.major_tick_in = 0
        ax.minor_tick_out = 0
        ax.minor_tick_in = 0
        ax.major_label_text_font = FONT
        ax.major_label_text_font_size = "10px"
        ax.major_label_text_color = TEXT_COLOR
        ax.major_label_standoff = ts
        ax.axis_label_text_font = FONT
        ax.axis_label_text_font_size = "11px"
        ax.axis_label_text_font_style = "normal"
        ax.axis_label_text_color = TEXT_COLOR
        ax.axis_label_standoff = ls
    p.yaxis[0].major_label_standoff = 3
    p.yaxis[0].axis_label_standoff = 0

    if thr is not None:
        p.add_layout(Span(location=thr, dimension="height", line_color="#606060",
                          line_width=1, line_dash="6 4"))

    xs = [[pt[0] for pt in path] for path in paths]
    ys = [[pt[1] for pt in path] for path in paths]
    p.multi_line(xs, ys, line_color=THIN_COLOR, line_width=0.9, line_alpha=0.95)
    p.line([pt[0] for pt in mean], [pt[1] for pt in mean], line_color="black",
           line_width=3, line_join="round", line_cap="round")
    p.scatter([START[0]], [START[1]], size=9, color="black")
    return p


figs = [make_panel(PANELS[i][0], PANELS[i][1], THRESHOLDS[i], GEOM[i]) for i in range(5)]
layout = column(row(figs[0], figs[1], figs[2]), row(figs[3], figs[4]))

open("out.html", "w").write(file_html(layout, INLINE))
